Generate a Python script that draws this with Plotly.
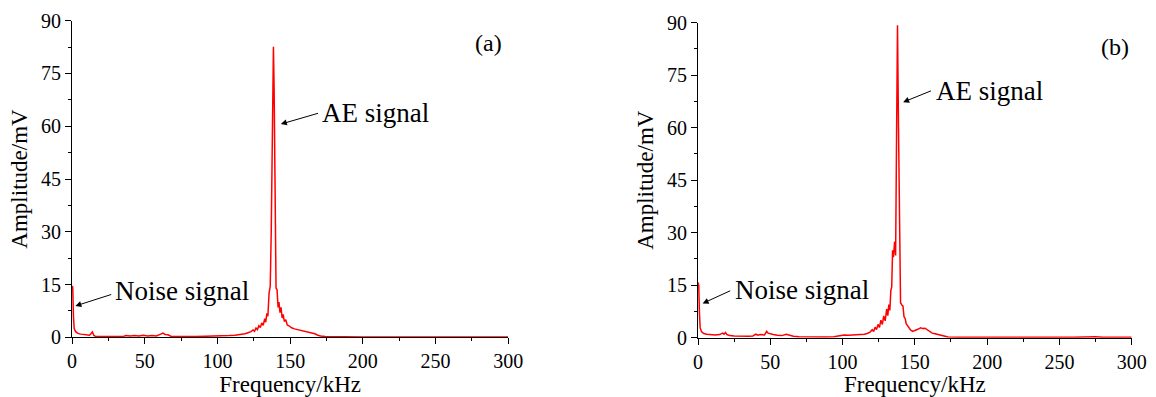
import plotly.graph_objects as go

# ---- Panel (a) spectrum ----
freq_a = [0, 0.5, 1, 1.5, 2.5, 4, 6, 9, 12, 13, 14, 15, 16, 20, 25, 30, 35, 37, 40, 43, 46, 49, 52, 55,
          58, 61, 62.5, 64, 66, 68, 72, 78, 85, 92, 98, 104, 108, 112, 116, 119, 121, 123, 124.5, 125.5,
          126.5, 127.5, 128.5, 129.5, 130.5, 131.5, 132.5, 133.2, 134, 134.7, 135.5, 136.3, 137, 138,
          138.5, 139, 139.7, 140.3, 141, 141.7, 142.3, 143, 143.7, 144.5, 145.2, 146, 147, 148, 149.5,
          151, 153, 155, 157, 159, 161, 163, 165, 167, 169, 171, 174, 180, 190, 200, 220, 240, 260,
          275, 280, 300]
amp_a = [14.6, 14.3, 6, 2.5, 1.6, 1.1, 0.9, 0.7, 0.6, 1.0, 1.5, 0.6, 0.3, 0.2, 0.15, 0.2, 0.2, 0.5, 0.35,
         0.5, 0.35, 0.6, 0.4, 0.5, 0.4, 0.9, 1.2, 0.8, 0.7, 0.3, 0.25, 0.2, 0.25, 0.3, 0.3, 0.45, 0.5,
         0.6, 0.8, 1.0, 1.3, 1.6, 2.1, 1.7, 2.6, 2.2, 3.3, 2.8, 4.1, 3.4, 5.3, 4.3, 6.8, 6.0, 12.5, 14.5,
         30, 78, 82.6, 70, 35, 14, 13.5, 8.5, 10, 7, 8.5, 5.5, 6.5, 4.5, 5, 3.5, 3.2, 2.7, 2.4, 2.2, 2.1,
         1.9, 1.8, 1.6, 1.3, 1.0, 0.6, 0.35, 0.2, 0.15, 0.1, 0.1, 0.1, 0.1, 0.1, 0.2, 0.1, 0.1]

# ---- Panel (b) spectrum ----
freq_b = [0, 0.5, 1, 1.5, 2.5, 4, 6, 9, 12, 15, 17, 18, 19, 20, 22, 25, 30, 35, 38, 40, 41.5, 43, 46,
          47.5, 48.5, 50, 52, 55, 58, 61, 63, 66, 70, 76, 82, 88, 94, 98, 101, 104, 108, 112, 115, 117,
          119, 120.5, 121.5, 122.5, 123.5, 124.5, 125.5, 126.5, 127.5, 128.5, 129.5, 130.5, 131.3, 132,
          132.7, 133.4, 134, 134.6, 135.2, 136, 136.7, 137.3, 138, 138.7, 139.5, 140.1, 141, 141.8,
          142.5, 143.3, 144, 145, 146, 147, 148.5, 150, 152, 154, 155.5, 157, 158.5, 160, 162, 164, 166,
          168, 170, 173, 180, 200, 220, 240, 260, 275, 280, 300]
amp_b = [15.8, 15.0, 7, 2.8, 1.7, 1.2, 1.0, 0.8, 0.8, 0.9, 1.3, 1.0, 1.5, 0.9, 0.6, 0.5, 0.35, 0.4, 0.5,
         1.0, 0.7, 0.9, 0.8, 1.8, 1.3, 1.1, 0.9, 0.7, 0.6, 1.0, 0.7, 0.4, 0.3, 0.2, 0.2, 0.2, 0.3, 0.5,
         0.8, 0.7, 0.8, 0.8, 1.0, 1.2, 1.6, 2.3, 1.8, 3.0, 2.3, 3.8, 2.9, 5.0, 3.8, 6.2, 4.8, 8.2, 6.3,
         9.5, 7.8, 13.5, 14.5, 25, 23, 27.5, 23.5, 55, 89.3, 60, 25, 10, 9.3, 9, 6, 5.5, 4, 3.3, 2.8,
         2.2, 1.8, 2.0, 2.4, 2.8, 2.6, 2.7, 2.2, 1.8, 1.3, 1.1, 0.9, 0.7, 0.4, 0.2, 0.15, 0.1, 0.1,
         0.1, 0.1, 0.25, 0.1, 0.1]

x_ticks = [0, 50, 100, 150, 200, 250, 300]
y_ticks = [0, 15, 30, 45, 60, 75, 90]
x_title = "Frequency/kHz"
y_title = "Amplitude/mV"

FONT = "Liberation Serif"
W, H = 1156, 397

fig = go.Figure()
fig.add_trace(go.Scatter(x=freq_a, y=amp_a, mode="lines", line=dict(color="#ff0000", width=1.5),
                         xaxis="x", yaxis="y", showlegend=False))
fig.add_trace(go.Scatter(x=freq_b, y=amp_b, mode="lines", line=dict(color="#ff0000", width=1.5),
                         xaxis="x2", yaxis="y2", showlegend=False))

def xax(domain, anchor):
    return dict(domain=domain, anchor=anchor, range=[0, 300], tickvals=x_ticks, ticks="outside",
                ticklen=6, tickwidth=1, tickcolor="black", showline=True, linecolor="black",
                linewidth=1, showgrid=False, zeroline=False, automargin=False,
                minor=dict(dtick=25, ticks="outside", ticklen=3, tickcolor="black", showgrid=False),
                tickfont=dict(family=FONT, size=20, color="black"),
                title=dict(text=x_title, font=dict(family=FONT, size=23, color="black"), standoff=6))

def yax(domain, anchor):
    return dict(domain=domain, anchor=anchor, range=[0, 90], tickvals=y_ticks, ticks="outside",
                ticklen=6, tickwidth=1, tickcolor="black", showline=True, linecolor="black",
                linewidth=1, showgrid=False, zeroline=False, automargin=False,
                minor=dict(dtick=7.5, ticks="outside", ticklen=3, tickcolor="black", showgrid=False),
                tickfont=dict(family=FONT, size=20, color="black"),
                title=dict(text=y_title, font=dict(family=FONT, size=23, color="black"), standoff=6))

fig.update_layout(
    width=W, height=H, margin=dict(l=0, r=0, t=0, b=0, autoexpand=False),
    paper_bgcolor="white", plot_bgcolor="white",
    xaxis=xax([72 / W, 508.3 / W], "y"),
    yaxis=yax([1 - 337.3 / H, 1 - 20.7 / H], "x"),
    xaxis2=xax([698 / W, 1131.7 / W], "y2"),
    yaxis2=yax([1 - 337.7 / H, 1 - 22.7 / H], "x2"),
)

def arrow(xr, yr, hx, hy, tx, ty):
    return dict(x=hx, y=hy, ax=tx, ay=ty, xref=xr, yref=yr, axref=xr, ayref=yr, text="",
                showarrow=True, arrowhead=2, arrowsize=1.2, arrowwidth=1, arrowcolor="black")

def label(xr, yr, x, y, text, size=27, xanchor="left"):
    return dict(x=x, y=y, xref=xr, yref=yr, text=text, showarrow=False, xanchor=xanchor,
                yanchor="middle", font=dict(family=FONT, size=size, color="black"))

fig.update_layout(annotations=[
    arrow("x", "y", 143.6, 60.6, 170.2, 63.8),
    label("x", "y", 170.5, 63.7, "AE signal"),
    arrow("x", "y", 2.3, 8.9, 28, 12.3),
    label("x", "y", 28.5, 13.2, "Noise signal"),
    label("x", "y", 286.2, 83.7, "(a)", size=24, xanchor="center"),
    arrow("x2", "y2", 141.9, 67.3, 162.2, 70.7),
    label("x2", "y2", 163.5, 70.5, "AE signal"),
    arrow("x2", "y2", 3.2, 9.8, 23.3, 13.6),
    label("x2", "y2", 24.5, 13.5, "Noise signal"),
    label("x2", "y2", 288.2, 83.1, "(b)", size=24, xanchor="center"),
])

fig.write_html("out.html")
